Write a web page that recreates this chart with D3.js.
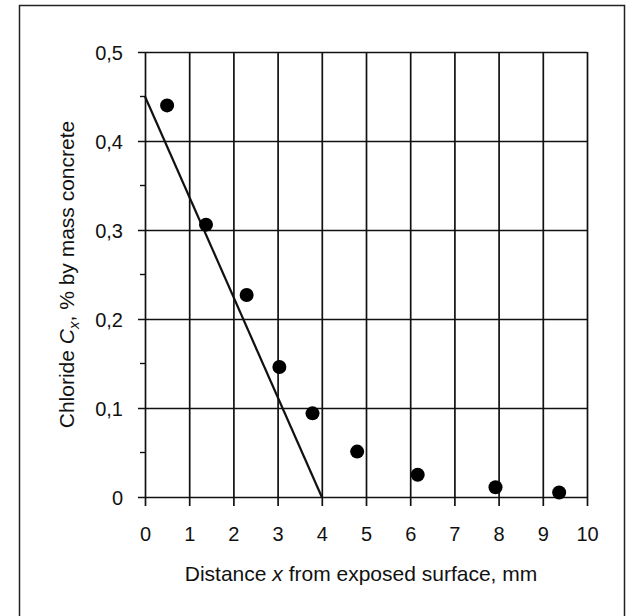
<!DOCTYPE html>
<html>
<head>
<meta charset="utf-8">
<script src="https://cdn.jsdelivr.net/npm/d3@7/dist/d3.min.js"></script>
<style>
  body { margin: 0; background: #fff; }
  svg text { font-family: "Liberation Sans", Arial, sans-serif; fill: #111; }
</style>
</head>
<body>
<div class="canvas"></div>
<script>
// measured chloride profile
const distance = [0.5, 1.38, 2.3, 3.04, 3.79, 4.8, 6.17, 7.93, 9.37];
const chloride = [0.44, 0.306, 0.227, 0.146, 0.094, 0.051, 0.025, 0.011, 0.005];

// fitted straight line
const fitX = [0, 4];
const fitY = [0.45, 0];

const xTicks = [0, 1, 2, 3, 4, 5, 6, 7, 8, 9, 10];
const yTicks = [0, 0.1, 0.2, 0.3, 0.4, 0.5];
const yMinor = [0.05, 0.15, 0.25, 0.35, 0.45];

const dims = { width: 635, height: 616 };
const plot = { left: 145, right: 587, top: 52, bottom: 497 };

const svg = d3
  .select(".canvas")
  .append("svg")
  .attr("width", dims.width)
  .attr("height", dims.height);

// outer frame of the scanned figure (runs off the bottom)
svg
  .append("rect")
  .attr("x", 19.5)
  .attr("y", 5.5)
  .attr("width", 605)
  .attr("height", 640)
  .attr("fill", "none")
  .attr("stroke", "#222")
  .attr("stroke-width", 1.5);

const x = d3.scaleLinear().domain([0, 10]).range([plot.left, plot.right]);
const y = d3.scaleLinear().domain([0, 0.5]).range([plot.bottom, plot.top]);

const fmt = (d) => (d === 0 ? "0" : d3.format(".1f")(d).replace(".", ","));

// y axis: gridlines run across the plot, ticks stick out left
const yAxis = d3
  .axisLeft(y)
  .tickValues(yTicks)
  .tickSize(-(plot.right - plot.left))
  .tickPadding(22)
  .tickFormat(fmt);

const yg = svg
  .append("g")
  .attr("transform", `translate(${plot.left}, 0)`)
  .call(yAxis);
yg.select(".domain").remove();
yg.selectAll(".tick line")
  .attr("x1", -7)
  .attr("stroke", "#111")
  .attr("stroke-width", 1.7);
yg.selectAll(".tick text")
  .attr("font-size", 20)
  .attr("dy", "0.36em");

// minor ticks on the left
svg
  .append("g")
  .selectAll("line")
  .data(yMinor)
  .enter()
  .append("line")
  .attr("x1", plot.left - 5)
  .attr("x2", plot.left)
  .attr("y1", (d) => y(d))
  .attr("y2", (d) => y(d))
  .attr("stroke", "#111")
  .attr("stroke-width", 1.4);

// x axis: vertical gridlines, ticks stick out below
const xAxis = d3
  .axisBottom(x)
  .tickValues(xTicks)
  .tickSize(-(plot.bottom - plot.top))
  .tickPadding(30)
  .tickFormat(d3.format("d"));

const xg = svg
  .append("g")
  .attr("transform", `translate(0, ${plot.bottom})`)
  .call(xAxis);
xg.select(".domain").remove();
xg.selectAll(".tick line")
  .attr("y1", 9)
  .attr("stroke", "#111")
  .attr("stroke-width", 1.7);
xg.selectAll(".tick text").attr("font-size", 20).attr("dy", "0.71em");

// fitted line
const line = d3
  .line()
  .x((d) => x(d[0]))
  .y((d) => y(d[1]));

svg
  .append("path")
  .datum(d3.zip(fitX, fitY))
  .attr("d", line)
  .attr("fill", "none")
  .attr("stroke", "#111")
  .attr("stroke-width", 2.2);

// data points
svg
  .append("g")
  .selectAll("circle")
  .data(d3.zip(distance, chloride))
  .enter()
  .append("circle")
  .attr("cx", (d) => x(d[0]))
  .attr("cy", (d) => y(d[1]))
  .attr("r", 7)
  .attr("fill", "#000");

// axis titles
const xTitle = svg
  .append("text")
  .attr("x", (plot.left + plot.right) / 2 - 5)
  .attr("y", 581)
  .attr("text-anchor", "middle")
  .attr("font-size", 21);
xTitle.append("tspan").text("Distance ");
xTitle.append("tspan").attr("font-style", "italic").text("x");
xTitle.append("tspan").text(" from exposed surface, mm");

const yTitle = svg
  .append("text")
  .attr("transform", `translate(74, ${(plot.top + plot.bottom) / 2}) rotate(-90)`)
  .attr("text-anchor", "middle")
  .attr("font-size", 21);
yTitle.append("tspan").text("Chloride ");
yTitle.append("tspan").attr("font-style", "italic").text("C");
yTitle
  .append("tspan")
  .attr("font-style", "italic")
  .attr("font-size", 15)
  .attr("dy", 5)
  .text("x");
yTitle.append("tspan").attr("dy", -5).text(",  % by mass concrete");
</script>
</body>
</html>
